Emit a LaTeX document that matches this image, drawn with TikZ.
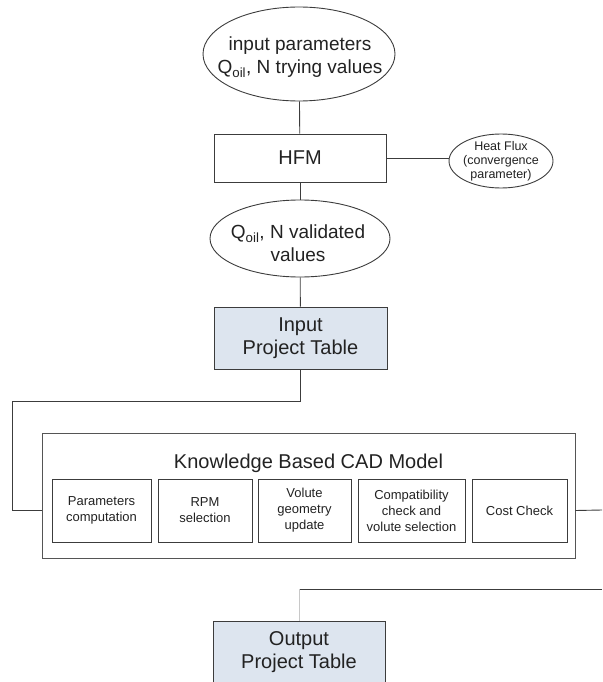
\documentclass[tikz,border=0pt]{standalone}
\usepackage{fontspec}
\setmainfont{Liberation Sans}
\usetikzlibrary{shapes.geometric}
\definecolor{ink}{HTML}{222222}
\definecolor{edge}{HTML}{3C3C3C}
\definecolor{frame}{HTML}{555555}
\definecolor{tablefill}{HTML}{DDE5EF}
\definecolor{palelink}{HTML}{C8C8C8}

\begin{document}
\begin{tikzpicture}[x=1pt,y=-1pt,
  every node/.style={text=ink, inner sep=0pt, align=center},
  box/.style={draw=edge, line width=0.9pt, rectangle},
  tablebox/.style={box, fill=tablefill},
  oval/.style={draw=edge, line width=0.9pt, ellipse},
  link/.style={draw=edge, line width=0.9pt},
  big/.style={font=\fontsize{20}{23}\selectfont},
  ovaltext/.style={font=\fontsize{19}{23}\selectfont},
  title/.style={font=\fontsize{20}{23}\selectfont},
  small/.style={font=\fontsize{13}{16}\selectfont},
  tiny/.style={font=\fontsize{12.5}{14}\selectfont},
  stepbox/.style={box, small, minimum height=63, inner sep=2pt}]
\useasboundingbox (0,0) rectangle (602,682);

% input parameters
\node[oval, minimum width=192, minimum height=94] (e1) at (299,54) {};
\node[ovaltext] (e1t) at (300,57) {input parameters\\Q\textsubscript{oil}, N trying values};

% HFM block and heat flux
\node[box, big, minimum width=172, minimum height=48] (hfm) at (300,158) {HFM};
\node[oval, minimum width=104, minimum height=54] (hf) at (501,161) {};
\node[tiny] (hft) at (501,161) {Heat Flux\\(convergence\\parameter)};

% validated values
\node[oval, minimum width=180, minimum height=77] (e2) at (300,238.5) {};
\node[ovaltext] (e2t) at (298,243.5) {Q\textsubscript{oil}, N validated\\values};

% input project table
\node[tablebox, big, minimum width=173, minimum height=62] (in) at (300.5,338) {Input\\Project Table};

% knowledge based CAD model
\node[box, draw=frame, minimum width=533, minimum height=125] (kb) at (308.5,495.5) {};
\node[title] (kbt) at (308.5,463) {Knowledge Based CAD Model};
\node[stepbox, minimum width=99]  (p1) at (101.5,510.5) {Parameters\\computation};
\node[stepbox, minimum width=94]  (p2) at (205,510.5) {RPM\\selection};
\node[stepbox, minimum width=93]  (p3) at (304.5,510.5) {Volute\\geometry\\update};
\node[stepbox, minimum width=107] (p4) at (411.5,510.5) {Compatibility\\check and\\volute selection};
\node[stepbox, minimum width=95]  (p5) at (519.5,510.5) {Cost Check};

% output project table
\node[tablebox, big, minimum width=172, minimum height=62] (out) at (299,652) {Output\\Project Table};

% connectors
\coordinate (lb) at (12,401);
\coordinate (re) at (602,510);
\coordinate (bt) at (602,589);

\draw[link] (e1) -- (hfm);
\draw[link] (hfm.east) -- (hfm.east -| hf.west);
\draw[link] (hfm) -- (e2);
\draw[link] (e2) -- (in);
\draw[link] (in.south) |- (lb) |- (kb.west |- p1.center);
\draw[link] (kb.east |- p5.center) -- (re);
\draw[link] (bt) -- (out.north |- bt);
\draw[draw=palelink, line width=0.9pt] (out.north |- bt) -- (out.north);
\end{tikzpicture}
\end{document}
